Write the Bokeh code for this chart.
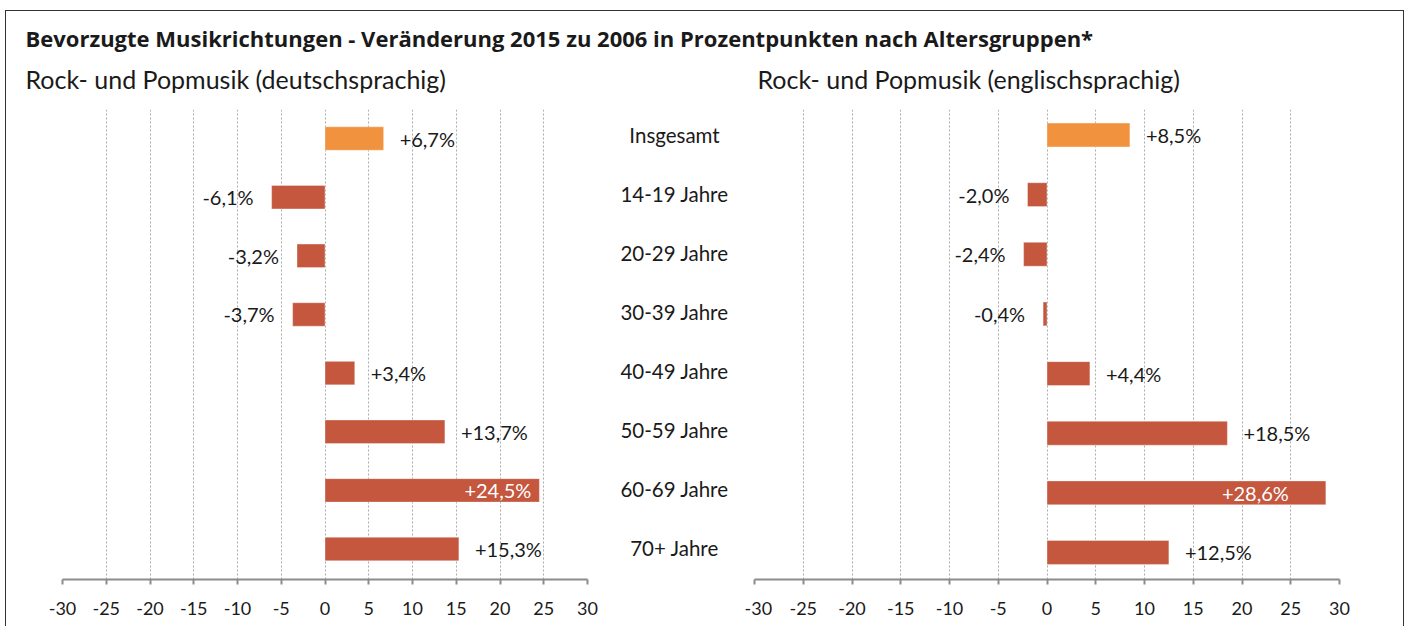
from bokeh.plotting import figure
from bokeh.models import ColumnDataSource, Range1d, Label, FixedTicker
from bokeh.layouts import column, row
from bokeh.embed import file_html
from bokeh.resources import INLINE
from bokeh.core.properties import value

# ---------------- data ----------------
categories = ["Insgesamt", "14-19 Jahre", "20-29 Jahre", "30-39 Jahre",
              "40-49 Jahre", "50-59 Jahre", "60-69 Jahre", "70+ Jahre"]
deutschsprachig = [6.7, -6.1, -3.2, -3.7, 3.4, 13.7, 24.5, 15.3]
englischsprachig = [8.5, -2.0, -2.4, -0.4, 4.4, 18.5, 28.6, 12.5]
x_ticks = [-30, -25, -20, -15, -10, -5, 0, 5, 10, 15, 20, 25, 30]
x_tick_labels = ["-30", "-25", "-20", "-15", "-10", "-5", "0", "5", "10", "15", "20", "25", "30"]
title_text = "Bevorzugte Musikrichtungen - Veränderung 2015 zu 2006 in Prozentpunkten nach Altersgruppen*"
subtitle_left = "Rock- und Popmusik (deutschsprachig)"
subtitle_right = "Rock- und Popmusik (englischsprachig)"

# ---------------- style ----------------
FONT = "Lato"
TITLE_FONT = "Open Sans"
ORANGE = "#F0923E"
RED = "#C4573E"
TXT = "#1a1a1a"
AXIS = "#8c8c8c"
GRID = "#aaaaaa"
BORDER = "#333333"

INNER_W = 1397
HEAD_H = 97
BODY_H = 518


def fmt(v):
    return ("%+.1f" % v).replace(".", ",") + "%"


def base_fig(width, height, xr, yr, **kw):
    p = figure(width=width, height=height, x_range=xr, y_range=yr,
               output_backend="svg", toolbar_location=None, title=None,
               background_fill_color="white", border_fill_color="white",
               outline_line_color=None, **kw)
    return p


# ---------------- header ----------------
head = base_fig(INNER_W, HEAD_H, Range1d(0, INNER_W), Range1d(HEAD_H, 0),
                x_axis_type=None, y_axis_type=None,
                min_border_left=0, min_border_right=0, min_border_top=0, min_border_bottom=0)
head.grid.visible = False
head.add_layout(Label(x=19, y=26, text=title_text, text_font=TITLE_FONT, text_font_size="22px",
                      text_font_style="bold", text_color=TXT, text_baseline="alphabetic"))
head.add_layout(Label(x=19, y=67, text=subtitle_left, text_font=FONT, text_font_size="25px",
                      text_color=TXT, text_baseline="alphabetic"))
head.add_layout(Label(x=751, y=67, text=subtitle_right, text_font=FONT, text_font_size="25px",
                      text_color=TXT, text_baseline="alphabetic"))


# ---------------- panels ----------------
def panel(vals, width, bl, br, yr, inside_pad):
    p = base_fig(width, BODY_H, Range1d(-30, 30), yr, y_axis_type=None,
                 min_border_left=bl, min_border_right=br, min_border_top=1, min_border_bottom=47)
    n = len(vals)
    vmax = max(vals)
    src = ColumnDataSource(dict(
        y=list(range(n)),
        v=vals,
        zero=[0] * n,
        color=[ORANGE if i == 0 else RED for i in range(n)],
        label=[fmt(v) for v in vals],
        align=["right" if (v < 0 or v == vmax) else "left" for v in vals],
        xoff=[-inside_pad if v == vmax else (16 if v >= 0 else -18) for v in vals],
        tcol=["white" if v == vmax else TXT for v in vals],
    ))
    p.hbar(y="y", left="zero", right="v", height=0.4, fill_color="color",
           line_color="white", line_alpha=0.35, line_width=1, source=src)
    p.text(x="v", y="y", text="label", text_align="align", x_offset="xoff", y_offset=0,
           text_color="tcol", text_baseline="middle", text_font=value(FONT),
           text_font_size="20px", source=src)
    ax = p.xaxis[0]
    ax.ticker = FixedTicker(ticks=x_ticks)
    ax.major_label_overrides = {t: s for t, s in zip(x_ticks, x_tick_labels)}
    ax.axis_line_color = AXIS
    ax.axis_line_width = 2
    ax.major_tick_line_color = AXIS
    ax.major_tick_line_width = 2
    ax.major_tick_out = 5
    ax.major_tick_in = 0
    ax.minor_tick_line_color = None
    ax.major_label_text_font = FONT
    ax.major_label_text_font_size = "18px"
    ax.major_label_text_color = TXT
    ax.major_label_standoff = 17
    p.xgrid.ticker = FixedTicker(ticks=x_ticks)
    p.xgrid.grid_line_color = GRID
    p.xgrid.grid_line_dash = "2 2"
    p.xgrid.grid_line_width = 1
    p.ygrid.visible = False
    return p


left = panel(deutschsprachig, 598, 56, 17, Range1d(7.52, -0.495), 8)
right = panel(englischsprachig, 659, 10, 64, Range1d(7.453, -0.428), 37)

mid = base_fig(140, BODY_H, Range1d(0, 1), Range1d(7.54, -0.424),
               x_axis_type=None, y_axis_type=None,
               min_border_left=0, min_border_right=0, min_border_top=1, min_border_bottom=47)
mid.grid.visible = False
msrc = ColumnDataSource(dict(x=[0.5] * len(categories), y=list(range(len(categories))), t=categories))
mid.text(x="x", y="y", text="t", text_align="center", text_baseline="middle",
         text_font=value(FONT), text_font_size="20.5px", text_color=TXT, source=msrc)

layout = column(head, row(left, mid, right),
                styles={"border-top": "1px solid " + BORDER,
                        "border-right": "1px solid " + BORDER,
                        "box-shadow": "-1px 0 0 " + BORDER,
                        "margin-left": "6px", "margin-top": "10px"})

open("out.html", "w").write(file_html(layout, INLINE))
